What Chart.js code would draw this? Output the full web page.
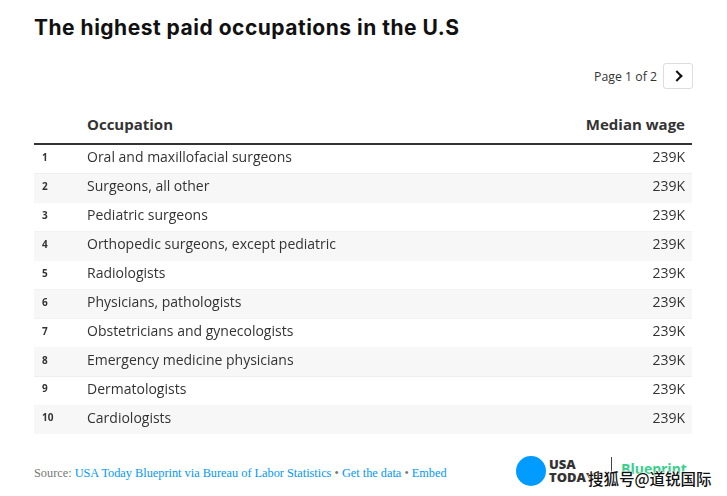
<!DOCTYPE html>
<html>
<head>
<meta charset="utf-8">
<script src="https://cdn.jsdelivr.net/npm/chart.js@4/dist/chart.umd.min.js"></script>
<style>
  body { margin: 0; width: 727px; height: 496px; background: #fff; position: relative; overflow: hidden; font-family: "Open Sans", sans-serif; color: #333; }
  .abs { position: absolute; white-space: nowrap; }
  #title { left: 34px; top: 15px; font: 700 21px "Inter", sans-serif; color: #111; letter-spacing: 0.5px; }
  #page { left: 594px; top: 68px; font-size: 12.3px; color: #333; }
  #next { left: 663px; top: 63px; width: 28px; height: 24px; border: 1px solid #ddd; border-radius: 3px; }
  #next::after { content: ''; position: absolute; left: 9px; top: 8px; width: 6px; height: 6px; border-top: 2px solid #111; border-right: 2px solid #111; transform: rotate(45deg); }
  .head { top: 114px; font: 700 15px "Open Sans"; color: #333; }
  #rule { left: 34px; top: 143px; width: 658px; height: 2px; background: #333; }
  #table { position: absolute; left: 34px; top: 145px; }
  #source { left: 34px; top: 466px; font: 12.3px "Liberation Serif", serif; color: #777; }
  #source a { color: #0098fe; text-decoration: none; }
  #dot { left: 516px; top: 456px; width: 30px; height: 30px; border-radius: 50%; background: #009bff; }
  #usa { left: 549px; top: 458px; font: 800 13px/13px "Open Sans"; color: #333; }
  #sep { left: 611px; top: 457px; width: 1px; height: 26px; background: #444; }
  #bp { left: 621px; top: 459px; font: 700 14px "Open Sans"; color: #36d08a; }
  #wm { left: 588px; top: 467px; font: 500 15.5px "Noto Sans CJK SC"; color: #111; text-shadow: 0 0 2px #fff, 0 0 2px #fff, 0 0 2px #fff; }
</style>
</head>
<body>
<div id="title" class="abs">The highest paid occupations in the U.S</div>
<div id="page" class="abs">Page 1 of 2</div>
<div id="next" class="abs"></div>
<div class="abs head" style="left:87px">Occupation</div>
<div class="abs head" style="right:42px">Median wage</div>
<div id="rule" class="abs"></div>
<canvas id="table" width="658" height="289"></canvas>
<div id="source" class="abs">Source: <a>USA Today Blueprint via Bureau of Labor Statistics</a> • <a>Get the data</a> • <a>Embed</a></div>
<div id="dot" class="abs"></div>
<div id="usa" class="abs">USA<br>TODAY</div>
<div id="sep" class="abs"></div>
<div id="bp" class="abs">Blueprint</div>
<div id="wm" class="abs">搜狐号@道锐国际</div>
<script>
// 表のデータ
const ranks = [1, 2, 3, 4, 5, 6, 7, 8, 9, 10];
const occupations = [
    'Oral and maxillofacial surgeons',
    'Surgeons, all other',
    'Pediatric surgeons',
    'Orthopedic surgeons, except pediatric',
    'Radiologists',
    'Physicians, pathologists',
    'Obstetricians and gynecologists',
    'Emergency medicine physicians',
    'Dermatologists',
    'Cardiologists'
];
const wages = [239, 239, 239, 239, 239, 239, 239, 239, 239, 239];

// 行の文字を描く
const tableText = {
    id: 'tableText',
    afterDraw(chart) {
        const { ctx, chartArea } = chart;
        const y = chart.scales.y;
        ctx.save();
        ctx.textBaseline = 'middle';
        ctx.fillStyle = '#333';
        occupations.forEach((name, i) => {
            const py = y.getPixelForValue(i) - 1;
            ctx.textAlign = 'left';
            ctx.font = '700 10px "Open Sans"';
            ctx.fillText(String(ranks[i]), chartArea.left + 8, py);
            ctx.font = '14px "Open Sans"';
            ctx.fillText(name, chartArea.left + 53, py);
            ctx.textAlign = 'right';
            ctx.fillText(wages[i] + 'K', chartArea.right - 7, py);
        });
        ctx.restore();
    }
};

new Chart(document.getElementById('table'), {
    type: 'bar',
    data: {
        labels: occupations,
        datasets: [{
            data: occupations.map(() => 1),
            backgroundColor: occupations.map((_, i) => i % 2 ? '#f7f7f7' : 'rgba(0,0,0,0)'),
            borderWidth: 0,
            barPercentage: 1,
            categoryPercentage: 1
        }]
    },
    options: {
        indexAxis: 'y',
        responsive: false,
        animation: false,
        events: [],
        layout: { padding: 0 },
        plugins: { legend: { display: false }, tooltip: { enabled: false } },
        scales: {
            x: { display: false, min: 0, max: 1 },
            y: {
                z: 1,
                ticks: { display: false },
                border: { display: false },
                grid: {
                    offset: true,
                    drawTicks: false,
                    color: ctx => (ctx.index === 0 || ctx.index === occupations.length) ? 'rgba(0,0,0,0)' : '#e4e4e4'
                },
                afterFit: scale => { scale.width = 0; }
            }
        }
    },
    plugins: [tableText]
});
</script>
</body>
</html>
